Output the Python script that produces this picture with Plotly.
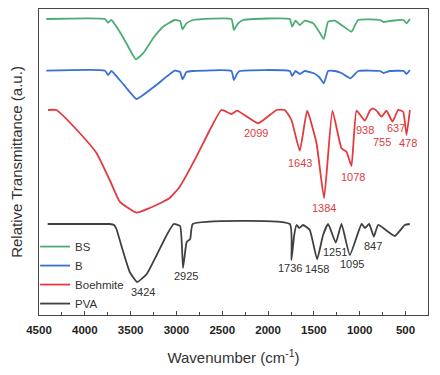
import plotly.graph_objects as go

# ---------------- data ----------------
bs_wn = [4420, 3780, 3746, 3710, 3619, 3546, 3444, 3364, 3255, 3146, 3018, 2960, 2934, 2891, 2819,
         2400, 2374, 2327, 2273, 1763, 1738, 1701, 1654, 1599, 1508, 1443, 1392, 1345, 1272, 1199,
         1090, 1017, 780, 740, 671, 520, 489, 453]
bs_t = [296, 296, 292.3, 295, 283.3, 271.7, 255.7, 261.7, 276.7, 288.3, 295, 294, 285.7, 291.7, 295,
        296, 285, 291.7, 295, 296, 288.3, 294.3, 290, 294.3, 291.7, 283.3, 276, 293.3, 294.3, 290,
        283.3, 295, 295, 293, 294, 295, 291.7, 296]

b_wn = [4420, 3780, 3746, 3710, 3619, 3546, 3437, 3364, 3219, 3018, 2960, 2934, 2891, 2819,
        2400, 2374, 2340, 2310, 1763, 1738, 1700, 1654, 1600, 1508, 1443, 1392, 1345, 1270, 1200,
        1100, 1017, 780, 740, 670, 520, 489, 453]
b_t = [244.3, 244.3, 240, 244, 235, 227, 216, 220, 230, 244.3, 243, 235.7, 243, 244,
       244, 235, 241, 244, 244, 239, 244, 241, 244, 242, 238, 231.7, 244, 244, 242,
       236.7, 244, 244, 242, 244, 244, 241, 245]

boe_wn = [4402, 4310, 4056, 3873, 3728, 3619, 3437, 3292, 3146, 3073, 2964, 2782, 2636, 2509,
          2400, 2338, 2109, 1908, 1818, 1745, 1654, 1574, 1472, 1389, 1298, 1199, 1145, 1090,
          1035, 944, 890, 854, 817, 762, 708, 642, 581, 526, 489, 453]
boe_t = [205, 205, 182, 162, 135, 113.3, 102.3, 107, 113.3, 117, 128.3, 158.3, 185, 205,
         201, 204.3, 191.7, 205, 205, 195, 164.3, 204.3, 172, 116.7, 204.3, 166.7, 163.3, 149,
         204.3, 194.3, 204.3, 206.7, 204.3, 198.3, 204.3, 193.3, 205, 203.3, 180, 205]

pva_wn = [4405, 3760, 3728, 3680, 3655, 3597, 3510, 3430, 3324, 3215, 3106, 3030, 2960, 2928,
          2900, 2888, 2850, 2822, 1763, 1745, 1715, 1690, 1660, 1620, 1545, 1465, 1400, 1345, 1261,
          1199, 1108, 980, 944, 897, 846, 799, 617, 508, 453]
pva_t = [91, 91, 91, 90, 86, 68, 43, 33, 41, 60, 80, 91, 89, 47,
         67, 73, 76, 91, 91, 55, 80, 90, 87, 90, 85, 55.7, 80, 91, 72.3,
         91, 60, 91, 87, 91, 78.3, 90, 79, 90, 91]

series_names = ["BS", "B", "Boehmite", "PVA"]

boe_labels = ["2099", "1643", "1384", "1078", "938", "755", "637", "478"]
boe_label_x = [2132, 1652, 1390, 1070, 942, 760, 604, 470]
boe_label_y = [182.3, 152.3, 107, 138.3, 185, 173.3, 186.7, 171.7]

pva_labels = ["3424", "2925", "1736", "1458", "1251", "1095", "847"]
pva_label_x = [3368, 2896, 1761, 1463, 1270, 1088, 852]
pva_label_y = [23.3, 39, 47.3, 45.7, 63.3, 51, 69]

x_ticks = [4500, 4000, 3500, 3000, 2500, 2000, 1500, 1000, 500]

# ---------------- figure ----------------
colors = ["rgb(76,172,116)", "rgb(56,112,212)", "rgb(226,58,62)", "rgb(64,64,64)"]
data = [(bs_wn, bs_t), (b_wn, b_t), (boe_wn, boe_t), (pva_wn, pva_t)]

fig = go.Figure()
for (xw, yt), name, c in zip(data, series_names, colors):
    fig.add_trace(go.Scatter(x=xw, y=yt, mode="lines", name=name,
                             line=dict(color=c, width=1.8, shape="spline", smoothing=0.4)))

for t, x, y in zip(boe_labels, boe_label_x, boe_label_y):
    fig.add_annotation(x=x, y=y, text=t, showarrow=False,
                       font=dict(family="Liberation Sans, Arial", size=11, color="rgb(226,58,62)"))
for t, x, y in zip(pva_labels, pva_label_x, pva_label_y):
    fig.add_annotation(x=x, y=y, text=t, showarrow=False,
                       font=dict(family="Liberation Sans, Arial", size=11, color="rgb(50,50,50)"))

axis_line = "rgb(70,70,70)"
fig.update_layout(
    width=432, height=367,
    margin=dict(l=31, r=12, t=1, b=60),
    paper_bgcolor="white", plot_bgcolor="white",
    font=dict(family="Liberation Sans, Arial", color="rgb(50,50,50)"),
    showlegend=True,
    legend=dict(x=-0.01, y=0.271, xanchor="left", yanchor="top",
                bgcolor="rgba(0,0,0,0)", font=dict(size=11.5, color="rgb(50,50,50)"),
                tracegroupgap=0),
    xaxis=dict(range=[4500, 255], tickvals=x_ticks, ticks="inside", ticklen=4, tickwidth=1,
               tickcolor=axis_line, showline=True, linecolor=axis_line, linewidth=1.3, mirror=True,
               showgrid=False, zeroline=False, ticklabelstandoff=4,
               minor=dict(dtick=250, ticks="inside", ticklen=2.5, tickcolor=axis_line, showgrid=False),
               tickfont=dict(size=11.5, color="rgb(30,30,30)", weight="bold"),
               title=dict(text="Wavenumber (cm<sup>-1</sup>)", font=dict(size=15, color="rgb(50,50,50)"),
                          standoff=17)),
    yaxis=dict(range=[0, 306], showticklabels=False, ticks="", showline=True, linecolor=axis_line,
               linewidth=1.3, mirror=True, showgrid=False, zeroline=False,
               title=dict(text="Relative Transmittance (a.u.)", font=dict(size=15, color="rgb(50,50,50)"),
                          standoff=11)),
)

fig.write_html("out.html")
